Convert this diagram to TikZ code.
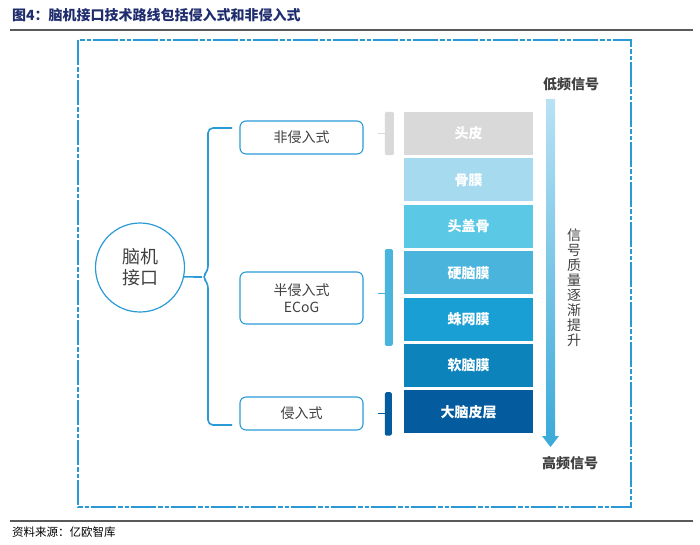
\documentclass[tikz,border=0pt]{standalone}
\usepackage{fontspec}
\setmainfont{Noto Sans CJK SC}
\usepackage{xcolor}
\usepackage{tikz}
\usetikzlibrary{positioning,arrows.meta}
\definecolor{frameblue}{RGB}{42,154,214}
\definecolor{navy}{RGB}{31,45,110}
\definecolor{ink}{RGB}{64,64,64}
\definecolor{rulegray}{RGB}{90,90,90}
\definecolor{skin}{RGB}{217,217,217}
\definecolor{peri}{RGB}{166,219,239}
\definecolor{skull}{RGB}{91,200,230}
\definecolor{dura}{RGB}{74,180,220}
\definecolor{arach}{RGB}{26,159,212}
\definecolor{pia}{RGB}{12,132,187}
\definecolor{cortex}{RGB}{4,92,158}
\definecolor{arrowtop}{RGB}{184,226,244}
\definecolor{arrowbot}{RGB}{58,169,216}

\begin{document}
\begin{tikzpicture}[x=1pt, y=-1pt,
		option/.style={draw=frameblue, line width=1.1pt, rounded corners=6pt,
			minimum width=123pt, inner sep=2pt, align=center, text=ink,
			font=\fontsize{14}{17}\selectfont},
		layer/.style={minimum width=129pt, minimum height=43pt, inner sep=0pt,
			text=white, font=\bfseries\fontsize{14}{16}\selectfont},
		bar/.style={rounded corners=1.5pt},
		tick/.style={line width=1pt},
		brace/.style={frameblue, line width=1.6pt, rounded corners=5pt},
		endlabel/.style={text=ink, font=\bfseries\fontsize{14}{16}\selectfont}]
	\useasboundingbox (0,0) rectangle (700,544);
	% title and rules
	\node[anchor=west, inner sep=0pt, text=navy, font=\bfseries\fontsize{14}{16}\selectfont]
		(title) at (12,15) {图4：脑机接口技术路线包括侵入式和非侵入式};
	\draw[rulegray, line width=1.5pt] (10,30) -- (693,30);
	\draw[rulegray, line width=1.5pt] (10,521) -- (693,521);
	\node[anchor=west, inner sep=0pt, font=\fontsize{11.5}{13}\selectfont]
		(source) at (12,532) {资料来源：亿欧智库};
	% frame
	\draw[frameblue, line width=2pt,
		dash pattern=on 25pt off 2pt on 4.5pt off 2pt on 4.5pt off 2pt]
		(78,40) rectangle (631,507);
	% interface and the three routes
	\node[circle, draw=frameblue, line width=1.2pt, minimum size=89pt, inner sep=0pt,
		align=center, text=ink, font=\fontsize{18}{21}\selectfont]
		(bci) at (140,267.5) {脑机\\接口};
	\node[option, minimum height=33pt] (noninv) at (301.5,137.5) {非侵入式};
	\node[option, minimum height=52pt] (semi) at (301.5,298) {半侵入式\\ECoG};
	\node[option, minimum height=33pt] (inv) at (301.5,413.5) {侵入式};
	\coordinate (btop) at (232,128);
	\coordinate (bbot) at (232,425);
	\coordinate (btip) at (202,277);
	\draw[brace] (btop) -| (208,271) -- (btip) -- (208,283) |- (bbot);
	\draw[frameblue, line width=1.6pt] (bci.-12) -- (btip);
	% tissue layers
	\node[layer, fill=skin] (l1) at (468.5,133.5) {头皮};
	\node[layer, fill=peri, below=3pt of l1] (l2) {骨膜};
	\node[layer, fill=skull, below=3pt of l2] (l3) {头盖骨};
	\node[layer, fill=dura, below=3pt of l3] (l4) {硬脑膜};
	\node[layer, fill=arach, below=3pt of l4] (l5) {蛛网膜};
	\node[layer, fill=pia, below=3pt of l5] (l6) {软脑膜};
	\node[layer, fill=cortex, below=3pt of l6] (l7) {大脑皮层};
	% brackets
	\fill[bar, skin] ([xshift=-19pt]l1.north west) rectangle ([xshift=-10pt]l1.south west);
	\draw[tick, skin] ([xshift=-19pt]l1.west) -- ([xshift=-26pt]l1.west);
	\fill[bar, dura] ([xshift=-19pt,yshift=2pt]l4.north west)
		rectangle ([xshift=-11pt,yshift=-5pt]l5.south west);
	\draw[tick, dura] ([xshift=-19pt,yshift=1pt]l4.south west) -- ([xshift=-26pt,yshift=1pt]l4.south west);
	\fill[bar, cortex] ([xshift=-19pt,yshift=-2pt]l7.north west)
		rectangle ([xshift=-12pt,yshift=-2pt]l7.south west);
	\draw[tick, cortex] ([xshift=-19pt,yshift=-2pt]l7.west) -- ([xshift=-26pt,yshift=-2pt]l7.west);
	% signal arrow
	\node[endlabel] (low) at (571,84) {低频信号};
	\node[endlabel] (high) at (570,463) {高频信号};
	\shade[top color=arrowtop, bottom color=arrowbot]
		(546,99) -- (555,99) -- (555,436) -- (559,436) -- (550.5,447)
		-- (542,436) -- (546,436) -- cycle;
	\node[align=center, text=ink, inner sep=0pt, font=\fontsize{14}{15}\selectfont]
		(quality) at (574,288) {信\\号\\质\\量\\逐\\渐\\提\\升};
\end{tikzpicture}
\end{document}
